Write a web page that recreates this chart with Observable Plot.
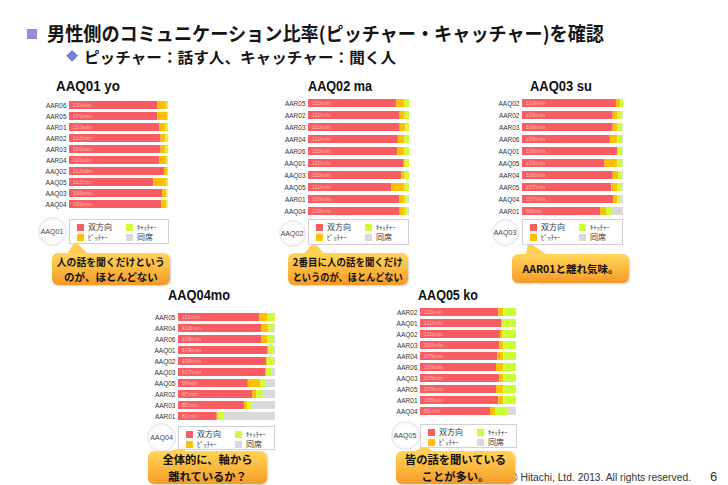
<!DOCTYPE html>
<html><head><meta charset="utf-8">
<script src="https://cdn.jsdelivr.net/npm/d3@7"></script>
<script src="https://cdn.jsdelivr.net/npm/@observablehq/plot@0.6"></script>
<style>
html,body{margin:0;padding:0;background:#fff;}
#page{position:relative;width:728px;height:485px;overflow:hidden;font-family:"Liberation Sans",Arial,sans-serif;background:#fff;}
.jp{font-family:"Noto Sans CJK JP","Noto Sans CJK SC",sans-serif;}
.nw{position:absolute;white-space:nowrap;line-height:1;}
.ptitle{font-size:14px;color:#111;font-weight:bold;}
.legend{position:absolute;border:1px solid #d2d2d2;background:#fff;box-sizing:border-box;z-index:3;}
.sw{position:absolute;width:7px;height:7px;}
.lt{position:absolute;font-size:8px;line-height:1;color:#333;white-space:nowrap;}
.lt.s{font-size:6.5px;}
.circ{position:absolute;border-radius:50%;background:radial-gradient(circle,#ffffff 50%,#e9e9f4 100%);border:1px solid #e2e2ee;box-sizing:border-box;font-size:7px;color:#444;display:flex;align-items:center;justify-content:center;z-index:2;}
.call{position:absolute;border-radius:6px;background:linear-gradient(#ffd55a 0%,#fbb73c 55%,#f5982b 100%);z-index:4;display:flex;flex-direction:column;align-items:center;justify-content:center;text-align:center;font-weight:bold;color:#111;box-shadow:1px 1px 2px rgba(0,0,0,0.18);}
.call span{display:inline-block;white-space:nowrap;}
.plotbox{position:absolute;z-index:2;}
</style></head><body><div id="page"></div>
<script>
// ---- series ----
const series = ["双方向","ピッチャー","キャッチャー","同席"];
const legendLabels = ["双方向","ﾋﾟｯﾁｬｰ","ｷｬｯﾁｬｰ","同席"];
const colors = ["#fa5d61","#ffc000","#ccff33","#d9d9d9"];

// ---- AAQ01 yo ----
const p1Rows = ["AAR06","AAR05","AAR01","AAR02","AAR03","AAR04","AAQ02","AAQ05","AAQ03","AAQ04"];
const p1Mins = [111,110,110,110,110,110,110,110,109,109];
const p1Bi = [89,89,91,92.5,92.5,91,96,85,94,93];
const p1Pi = [9.5,10,6.7,5,5,7.4,3,13.4,4.4,5.5];
const p1Ca = [1.5,1,2.3,2.5,2.5,1.6,1,1.6,1.2,1.2];
const p1Ab = [0,0,0,0,0,0,0,0,0.4,0.3];

// ---- AAQ02 ma ----
const p2Rows = ["AAR05","AAR02","AAR03","AAR04","AAR06","AAQ01","AAQ03","AAQ05","AAR01","AAQ04"];
const p2Mins = [110,110,110,110,110,110,110,110,109,109];
const p2Bi = [87.5,90.8,90.8,89,88.5,94.8,92.5,82.6,90.2,90.8];
const p2Pi = [8.2,5,5.2,6.6,7.2,1,3.3,13.1,5.6,5];
const p2Ca = [4.3,4.2,4,4.4,4.3,4.2,4.2,4.3,2.6,2.6];
const p2Ab = [0,0,0,0,0,0,0,0,1.6,1.6];

// ---- AAQ03 su ----
const p3Rows = ["AAQ02","AAR02","AAR03","AAR06","AAQ01","AAQ05","AAR04","AAR05","AAQ04","AAR01"];
const p3Mins = [110,109,109,109,109,109,108,107,107,99];
const p3Bi = [93,89.8,89.8,87,94,81.8,89.8,88.4,90.4,77.6];
const p3Pi = [4.3,5,5,7,1,12.2,5.3,6.3,4.3,5.6];
const p3Ca = [2.7,4.6,4.6,5.3,4.3,5.3,3.3,3.3,2.6,5];
const p3Ab = [0,0.6,0.6,0.7,0.7,0.7,1.6,2,2.7,11.8];

// ---- AAQ04mo ----
const p4Rows = ["AAR05","AAR04","AAR06","AAQ01","AAQ02","AAQ03","AAQ05","AAR02","AAR03","AAR01"];
const p4Mins = [111,110,109,109,109,107,99,97,85,62];
const p4Bi = [83.6,85.6,85.6,92.5,90.8,89.7,72,76.7,68.2,40];
const p4Pi = [8.9,7.5,6.8,0.7,1.4,1.7,12.7,3.8,3.4,1];
const p4Ca = [7.5,5.9,6.6,5.8,6.8,5.1,5.1,6.8,5.1,5.8];
const p4Ab = [0,1,1,1,1,3.5,10.2,12.7,23.3,53.2];

// ---- AAQ05 ko ----
const p5Rows = ["AAR02","AAQ01","AAQ02","AAR03","AAR04","AAR06","AAQ03","AAR05","AAR01","AAQ04"];
const p5Mins = [110,110,110,109,109,109,108,108,108,99];
const p5Bi = [81.6,85,83.3,82.6,80.6,79.2,82.6,79.2,81.6,72.9];
const p5Pi = [5.2,1,2.8,4.2,6.3,7.6,4.2,7.6,5.2,5.2];
const p5Ca = [13.2,14,13.9,12.2,12.1,12.2,12.2,12.2,12.2,12.9];
const p5Ab = [0,0,0,1,1,1,1,1,1,9];

// ---- texts ----
const mainTitle = "男性側のコミュニケーション比率(ピッチャー・キャッチャー)を確認";
const subTitle = "ピッチャー：話す人、キャッチャー：聞く人";
const panelTitles = ["AAQ01 yo","AAQ02 ma","AAQ03 su","AAQ04mo","AAQ05 ko"];
const panelIds = ["AAQ01","AAQ02","AAQ03","AAQ04","AAQ05"];
const calloutTexts = [
  ["人の話を聞くだけという","のが、ほとんどない"],
  ["2番目に人の話を聞くだけ","というのが、ほとんどない"],
  ["AAR01と離れ気味。"],
  ["全体的に、軸から","離れているか？"],
  ["皆の話を聞いている","ことが多い。"]
];
const copyright = "© Hitachi, Ltd. 2013. All rights reserved.";
const pageNo = "6";

// ---- layout (positions only) ----
const layout = [
  {bx:69, bw:99, top:94.7, step:11.93, tx:56, ty:79, tw:64, lx:69, ly:219, lw:100, lh:25, cx:52, cy:231, cd:29,
   c:{x:52,y:253,w:118,h:32,fs:10.5,lh:15.5}},
  {bx:308, bw:101, top:95.6, step:12.14, tx:308, ty:79, tw:64, lx:308, ly:219, lw:101, lh:26, cx:292, cy:233, cd:27,
   c:{x:288,y:253,w:120,h:32,fs:10.5,lh:15.5}},
  {bx:522, bw:101, top:95.6, step:12.2, tx:530, ty:79, tw:62, lx:522, ly:219, lw:101, lh:26, cx:505, cy:232, cd:27,
   c:{x:512,y:254,w:117,h:29,fs:10.5,lh:15.5}},
  {bx:178, bw:97, top:307.5, step:11.6, tx:168, ty:288, tw:62, lx:178, ly:426, lw:97, lh:24, cx:161.5, cy:437, cd:29,
   c:{x:148,y:451,w:119,h:33,fs:11.3,lh:16.6}},
  {bx:420, bw:96, top:303.2, step:11.67, tx:418, ty:288, tw:60, lx:420, ly:424, lw:97, lh:24, cx:405, cy:435.5, cd:29,
   c:{x:396,y:451,w:119,h:33,fs:11.3,lh:16.6}}
];
const panelsData = [
  {rows:p1Rows, mins:p1Mins, vals:[p1Bi,p1Pi,p1Ca,p1Ab]},
  {rows:p2Rows, mins:p2Mins, vals:[p2Bi,p2Pi,p2Ca,p2Ab]},
  {rows:p3Rows, mins:p3Mins, vals:[p3Bi,p3Pi,p3Ca,p3Ab]},
  {rows:p4Rows, mins:p4Mins, vals:[p4Bi,p4Pi,p4Ca,p4Ab]},
  {rows:p5Rows, mins:p5Mins, vals:[p5Bi,p5Pi,p5Ca,p5Ab]}
];

const page = document.getElementById("page");
function el(tag, cls, style, text){
  const e = document.createElement(tag);
  if(cls) e.className = cls;
  if(style) Object.assign(e.style, style);
  if(text!=null) e.textContent = text;
  page.appendChild(e);
  return e;
}
function fitW(e, w, origin){
  const r = e.getBoundingClientRect().width;
  if(r>0){ e.style.transformOrigin = origin||"left center"; e.style.transform = `scaleX(${w/r})`; }
}

// header
el("div", null, {position:"absolute", left:"27px", top:"29px", width:"10px", height:"10px", background:"#8f8fdc"});
const t1 = el("div", "nw jp", {left:"47px", top:"23px", fontSize:"19px", fontWeight:"bold", color:"#151515"}, mainTitle);
fitW(t1, 557);
el("div", "nw jp", {left:"66px", top:"50px", fontSize:"12px", color:"#7b7bdc"}, "◆");
const t2 = el("div", "nw jp", {left:"84px", top:"49px", fontSize:"15px", fontWeight:"bold", color:"#151515"}, subTitle);
fitW(t2, 312);

// pointers svg
const ns = "http://www.w3.org/2000/svg";
const psvg = document.createElementNS(ns, "svg");
psvg.setAttribute("width", 728); psvg.setAttribute("height", 485);
Object.assign(psvg.style, {position:"absolute", left:"0", top:"0", zIndex:"1"});
page.appendChild(psvg);

const ML = 30;
panelsData.forEach((pd, pi) => {
  const L = layout[pi];
  // title
  const tt = el("div", "nw ptitle", {left:L.tx+"px", top:L.ty+"px"}, panelTitles[pi]);
  fitW(tt, L.tw);
  // data table
  const table = [];
  pd.rows.forEach((r, i) => series.forEach((s, k) => table.push({row:r, series:s, value:pd.vals[k][i]})));
  const labels = pd.rows.map((r, i) => ({row:r, t:pd.mins[i] + "min"}));
  const chart = Plot.plot({
    width: ML + L.bw, height: L.step * pd.rows.length,
    marginLeft: ML, marginRight: 0, marginTop: 0, marginBottom: 0,
    style: {fontFamily:"Liberation Sans, Arial, sans-serif", background:"transparent", overflow:"visible", color:"#333"},
    x: {domain:[0,100], axis:null},
    y: {domain: pd.rows, paddingInner:0.3, paddingOuter:0.15, label:null},
    color: {domain: series, range: colors},
    marks: [
      Plot.barX(table, {y:"row", x:"value", fill:"series", order: series}),
      Plot.text(labels, {y:"row", x:0, text:"t", textAnchor:"start", dx:3, fill:"#ffb9b9", fontSize:6}),
      Plot.axisY({tickSize:0, tickPadding:3, fontSize:6.5, fill:"#333", label:null})
    ]
  });
  const box = el("div", "plotbox", {left:(L.bx-ML)+"px", top:L.top+"px"});
  box.appendChild(chart);

  // legend
  const lg = el("div", "legend", {left:L.lx+"px", top:L.ly+"px", width:L.lw+"px", height:L.lh+"px"});
  [0,1,2,3].forEach(k => {
    const rowi = (k===0||k===2)?0:1;
    const colx = (k<2)?7:56;
    const yy = rowi===0 ? 4 : 13.5;
    const small = (k===1||k===2);
    const s = document.createElement("div"); s.className="sw";
    Object.assign(s.style, {left:colx+"px", top:yy+"px", background:colors[k]});
    lg.appendChild(s);
    const t = document.createElement("div"); t.className = "lt jp" + (small?" s":"");
    Object.assign(t.style, {left:(colx+11)+"px", top:(yy - 1 + (small?1:0))+"px"});
    t.textContent = legendLabels[k];
    lg.appendChild(t);
  });

  // circle
  el("div", "circ", {left:(L.cx-L.cd/2)+"px", top:(L.cy-L.cd/2)+"px", width:L.cd+"px", height:L.cd+"px"}, panelIds[pi]);

  // pointer
  const C = L.c;
  const poly = document.createElementNS(ns, "polygon");
  const ax = L.lx + 6, ay = L.ly + L.lh - 3;
  poly.setAttribute("points", `${ax},${ay} ${C.x+14},${C.y+3} ${C.x+38},${C.y+3}`);
  poly.setAttribute("fill", "#ffcf52");
  psvg.appendChild(poly);

  // callout
  const cb = el("div", "call jp", {left:C.x+"px", top:C.y+"px", width:C.w+"px", height:C.h+"px", fontSize:C.fs+"px", lineHeight:C.lh+"px"});
  calloutTexts[pi].forEach(line => {
    const d = document.createElement("div");
    const sp = document.createElement("span"); sp.textContent = line;
    d.appendChild(sp); cb.appendChild(d);
  });
  cb.querySelectorAll("span").forEach(sp => {
    const w = sp.getBoundingClientRect().width, max = C.w - 10;
    if(w > max){ sp.style.transform = `scaleX(${max/w})`; sp.style.transformOrigin = "center"; }
  });
});

// footer
const cp = el("div", "nw", {left:"510px", top:"473px", fontSize:"10px", color:"#333", zIndex:"1"}, copyright);
fitW(cp, 181);
el("div", "nw", {left:"710px", top:"470px", fontSize:"13px", color:"#333"}, pageNo);
</script>
</body></html>
